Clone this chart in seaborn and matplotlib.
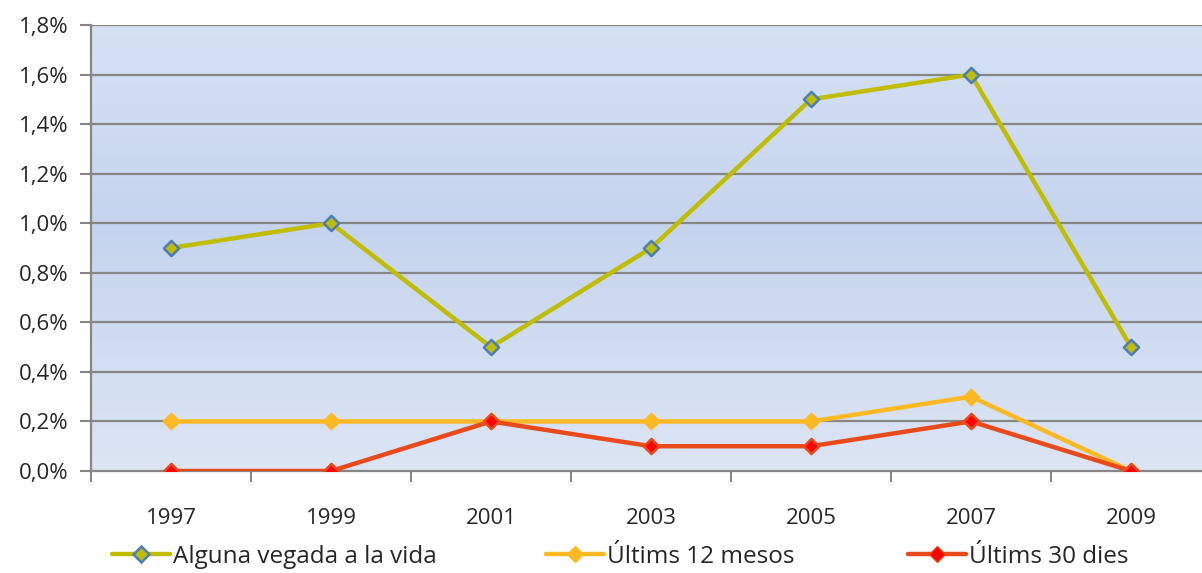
import numpy as np
import pandas as pd
import matplotlib
matplotlib.use("Agg")
import matplotlib.pyplot as plt
import seaborn as sns
from matplotlib.colors import LinearSegmentedColormap
from matplotlib.lines import Line2D

years = ["1997", "1999", "2001", "2003", "2005", "2007", "2009"]
vida = [0.9, 1.0, 0.5, 0.9, 1.5, 1.6, 0.5]
mesos12 = [0.2, 0.2, 0.2, 0.2, 0.2, 0.3, 0.0]
dies30 = [0.0, 0.0, 0.2, 0.1, 0.1, 0.2, 0.0]
series_names = ["Alguna vegada a la vida", "Últims 12 mesos", "Últims 30 dies"]
yticks = [0.0, 0.2, 0.4, 0.6, 0.8, 1.0, 1.2, 1.4, 1.6, 1.8]

sns.set_style("white")
plt.rcParams["font.family"] = ["Open Sans", "DejaVu Sans"]

fig = plt.figure(figsize=(12.02, 5.73), dpi=100)
ax = fig.add_axes([91/1202, 1 - 471/573, (1211-91)/1202, (471-25)/573])

# gradient background
cmap = LinearSegmentedColormap.from_list("bg", [(0, "#DDE5F4"), (0.55, "#C5D4EE"), (1, "#D6E1F3")])
grad = np.linspace(0, 1, 256).reshape(-1, 1)
ax.imshow(grad, aspect="auto", cmap=cmap, extent=[-0.5, 6.5, 0, 1.8], origin="lower", zorder=0)

for y in yticks[1:]:
    ax.axhline(y, color="#868686", lw=1.6, zorder=1)

df = pd.DataFrame({
    "x": list(range(len(years))) * 3,
    "v": vida + mesos12 + dies30,
    "s": [series_names[0]] * 7 + [series_names[1]] * 7 + [series_names[2]] * 7,
})
colors = {series_names[0]: "#C0BC00", series_names[1]: "#FDB924", series_names[2]: "#E84A1C"}
sns.lineplot(data=df, x="x", y="v", hue="s", palette=colors, lw=3.2, legend=False, ax=ax, zorder=3)

mk = [("#C0BC00", "#4A7EBB"), ("#FDB924", "#FDB924"), ("#FF0000", "#E84A1C")]
for vals, (fc, ec) in zip([vida, mesos12, dies30], mk):
    sns.scatterplot(x=list(range(len(years))), y=vals, marker="D", s=60, color=fc,
                    edgecolor=ec, linewidth=1.8, ax=ax, zorder=4, legend=False)

ax.set_xlim(-0.5, 6.5)
ax.set_ylim(0, 1.8)
ax.set_yticks(yticks)
ax.set_yticklabels([f"{v:.1f}%".replace(".", ",") for v in yticks], fontsize=16)
ax.set_xticks(range(len(years)))
ax.set_xticklabels(years, fontsize=16)
ax.tick_params(axis="x", which="major", bottom=True, length=0, pad=27)
ax.tick_params(axis="y", which="major", left=True, length=8, width=1.5, color="#868686",
               direction="out", pad=8)
# category boundary tick marks
ax.set_xticks(np.arange(-0.5, 7.0, 1.0), minor=True)
ax.tick_params(axis="x", which="minor", bottom=True, length=8, width=1.5, color="#868686", direction="out")
ax.set_xlabel("")
ax.set_ylabel("")
for side in ["top", "right"]:
    ax.spines[side].set_visible(False)
ax.spines["left"].set_color("#868686")
ax.spines["left"].set_linewidth(1.6)
ax.spines["bottom"].set_color("#868686")
ax.spines["bottom"].set_linewidth(1.6)

handles = [
    Line2D([0], [0], color="#C0BC00", lw=3.2, marker="D", markersize=8, markerfacecolor="#C0BC00", markeredgecolor="#4A7EBB", markeredgewidth=1.8),
    Line2D([0], [0], color="#FDB924", lw=3.2, marker="D", markersize=8, markerfacecolor="#FDB924", markeredgecolor="#FDB924"),
    Line2D([0], [0], color="#E84A1C", lw=3.2, marker="D", markersize=8, markerfacecolor="#FF0000", markeredgecolor="#E84A1C"),
]
leg_x = [112, 546, 908]
for h, name, lx in zip(handles, series_names, leg_x):
    fig.legend([h], [name], loc="center left", bbox_to_anchor=(lx/1202, 1 - 557/573),
               frameon=False, fontsize=17.5, handlelength=2.4, handletextpad=0.1,
               borderaxespad=0, borderpad=0)

fig.savefig("out.png", dpi=100)
